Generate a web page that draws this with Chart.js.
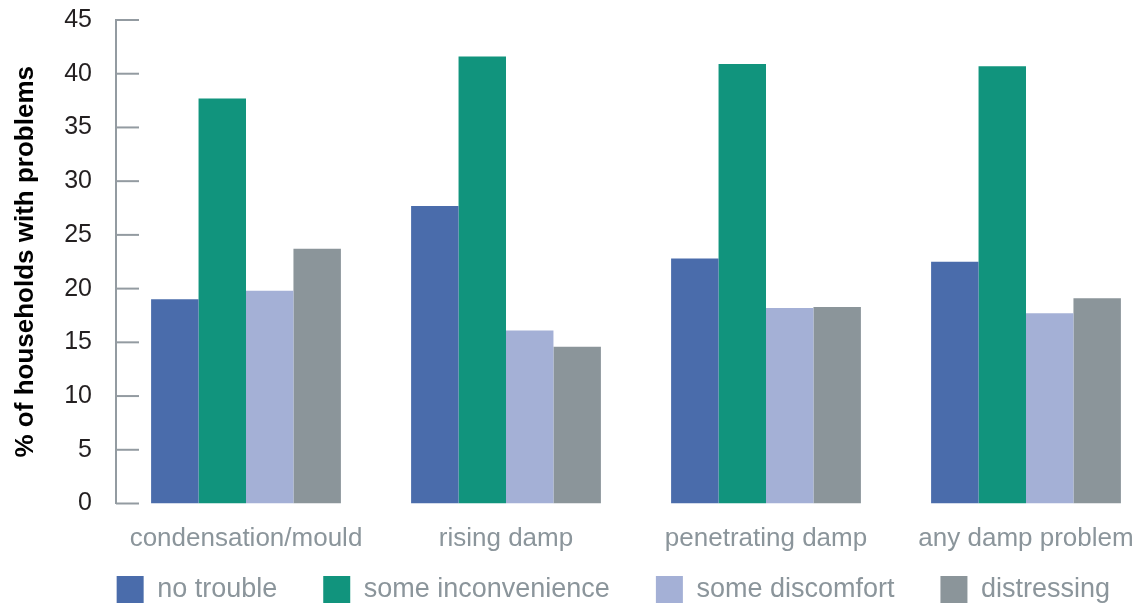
<!DOCTYPE html>
<html>
<head>
<meta charset="utf-8">
<script src="https://cdn.jsdelivr.net/npm/chart.js@4.4.0/dist/chart.umd.min.js"></script>
<style>
  html, body { margin: 0; padding: 0; background: #fff; overflow: hidden; }
  #marco { width: 1142px; height: 610px; overflow: hidden; }
  canvas { display: block; }
</style>
</head>
<body>
<div id="marco"><canvas id="grafica" width="1156" height="610"></canvas></div>
<script>
// Datos
const categorias = ['condensation/mould', 'rising damp', 'penetrating damp', 'any damp problem'];
const noTrouble = [19.0, 27.7, 22.8, 22.5];
const someInconvenience = [37.7, 41.6, 40.9, 40.7];
const someDiscomfort = [19.8, 16.1, 18.2, 17.7];
const distressing = [23.7, 14.6, 18.3, 19.1];
const nombresSeries = ['no trouble', 'some inconvenience', 'some discomfort', 'distressing'];
const yMin = 0, yMax = 45, yPaso = 5;

const colores = ['#4a6cab', '#11947d', '#a4b0d6', '#8b959a'];
const grisEje = '#939ba1';
const grisTexto = '#8b959b';
const fuente = "'Liberation Sans', Arial, Helvetica, sans-serif";

// marcas cortas del eje Y hacia dentro del área
const marcasEje = {
  id: 'marcasEje',
  afterDatasetsDraw(chart) {
    const esc = chart.scales.y;
    const ctx = chart.ctx;
    const x0 = chart.chartArea.left;
    ctx.save();
    ctx.strokeStyle = grisEje;
    ctx.lineWidth = 2;
    esc.ticks.forEach(t => {
      const py = esc.getPixelForValue(t.value);
      ctx.beginPath();
      ctx.moveTo(x0, py);
      ctx.lineTo(x0 + 23, py);
      ctx.stroke();
    });
    ctx.restore();
  }
};

// la leyenda va un poco más arriba, pegada a las etiquetas del eje X
const subirLeyenda = {
  id: 'subirLeyenda',
  afterLayout(chart) {
    const ley = chart.legend;
    ley.top -= 25.5;
    ley.height += 25.5;
  }
};

const series = [noTrouble, someInconvenience, someDiscomfort, distressing];

new Chart(document.getElementById('grafica'), {
  type: 'bar',
  data: {
    labels: categorias,
    datasets: series.map((valores, i) => ({
      label: nombresSeries[i],
      data: valores,
      backgroundColor: colores[i],
      borderWidth: 0,
      categoryPercentage: 0.73,
      barPercentage: 1.0
    }))
  },
  options: {
    responsive: false,
    animation: false,
    layout: { padding: { top: 20, left: 0, right: 0, bottom: 0 } },
    plugins: {
      tooltip: { enabled: false },
      legend: {
        position: 'bottom',
        align: 'end',
        maxHeight: 54.5,
        labels: {
          boxWidth: 27,
          boxHeight: 27,
          padding: 46,
          color: grisTexto,
          font: { family: fuente, size: 27 }
        }
      }
    },
    scales: {
      x: {
        grid: { display: false, drawTicks: false },
        border: { display: false },
        ticks: {
          color: grisTexto,
          padding: 20,
          font: { family: fuente, size: 26 }
        },
        afterFit(scale) { scale.height = 52; }
      },
      y: {
        min: yMin,
        max: yMax,
        grid: { display: false, drawTicks: false },
        border: { display: true, color: grisEje, width: 2 },
        ticks: {
          stepSize: yPaso,
          color: '#231f20',
          padding: 24,
          font: { family: fuente, size: 25 }
        },
        title: {
          display: true,
          text: '% of households with problems',
          color: '#000',
          padding: { top: 10, bottom: 0 },
          font: { family: fuente, size: 26, weight: 'bold' }
        },
        afterFit(scale) {
          scale.width = 116;
          scale.paddingTop = 0;
          scale.paddingBottom = 0;
        }
      }
    }
  },
  plugins: [marcasEje, subirLeyenda]
});
</script>
</body>
</html>
